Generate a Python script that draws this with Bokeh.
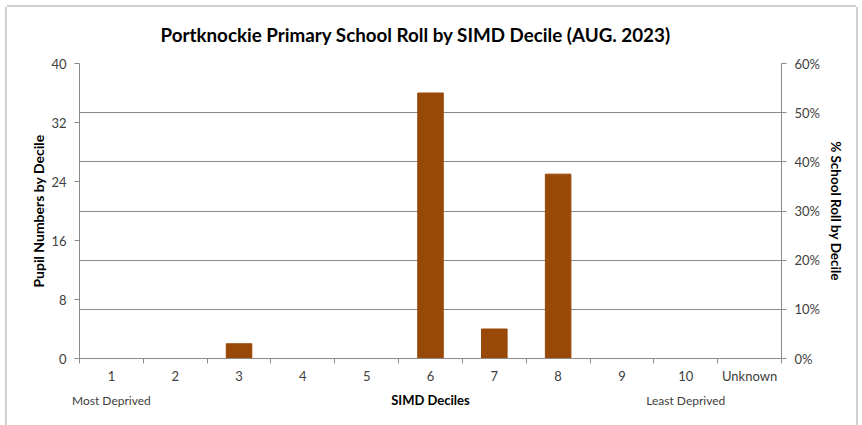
from bokeh.plotting import figure
from bokeh.models import (Range1d, LinearAxis, FixedTicker, NumeralTickFormatter,
                          Grid, InlineStyleSheet)
from bokeh.embed import file_html
from bokeh.resources import INLINE

# ---- data ----
categories = ["1", "2", "3", "4", "5", "6", "7", "8", "9", "10", "Unknown"]
pupils = [0, 0, 2, 0, 0, 36, 4, 25, 0, 0, 0]
left_ticks = [0, 8, 16, 24, 32, 40]
pct_ticks = [0.0, 0.1, 0.2, 0.3, 0.4, 0.5, 0.6]
end_notes = {"1": "Most Deprived", "10": "Least Deprived"}
title_text = "Portknockie Primary School Roll by SIMD Decile (AUG. 2023)"

FONT = "Lato"
AXIS_GREY = "#8a8a8a"
TICK_TXT = "#404040"
BAR = "#984807"

n = len(categories)
centers = [i + 0.5 for i in range(n)]
bounds = [float(i) for i in range(n + 1)]

# layout (pixels)
BL, BR, BT, BB = 72, 75, 56, 67
W, H = 849, 418

p = figure(width=W, height=H, output_backend="svg", toolbar_location=None,
           x_range=Range1d(0, n), y_range=Range1d(0, 40),
           min_border_left=BL, min_border_right=BR, min_border_top=BT,
           min_border_bottom=BB, outline_line_color=None,
           background_fill_color="white", border_fill_color="white")
p.margin = (7, 0, 0, 7)

p.stylesheets = [InlineStyleSheet(css=":host { box-shadow: -2px 0 0 0 #cfcfcf, 2px 0 0 0 #cfcfcf, 0 -2px 0 0 #cfcfcf; }")]

p.title.text = title_text
p.title.align = "left"
p.title.offset = 81
p.title.vertical_align = "top"
p.title.text_font = FONT
p.title.text_font_size = "18.8px"
p.title.text_font_style = "bold"
p.title.text_color = "black"
p.title.standoff = 31

p.extra_y_ranges = {"pct": Range1d(0, 0.6)}

p.vbar(x=centers, top=pupils, width=0.4, fill_color=BAR, line_color=BAR)

# grid from right axis
p.xgrid.grid_line_color = None
p.ygrid.grid_line_color = None
pct_ticker = FixedTicker(ticks=pct_ticks)
p.add_layout(Grid(dimension=1, ticker=pct_ticker, y_range_name="pct",
                  grid_line_color=AXIS_GREY, grid_line_width=1))

def style_axis(ax):
    ax.axis_line_color = AXIS_GREY
    ax.major_tick_line_color = AXIS_GREY
    ax.minor_tick_line_color = AXIS_GREY
    ax.major_tick_in = 0
    ax.major_tick_out = 5
    ax.minor_tick_in = 0
    ax.minor_tick_out = 0
    ax.major_label_text_font = FONT
    ax.major_label_text_font_size = "13px"
    ax.major_label_text_color = TICK_TXT
    ax.axis_label_text_font = FONT
    ax.axis_label_text_font_size = "13.5px"
    ax.axis_label_text_font_style = "bold"
    ax.axis_label_text_color = "black"

# left axis
ya = p.yaxis[0]
style_axis(ya)
ya.ticker = FixedTicker(ticks=left_ticks)
ya.axis_label = "Pupil Numbers by Decile"
ya.axis_label_text_font_size = "14px"
ya.major_label_standoff = 8
ya.axis_label_standoff = 1

# right axis
ra = LinearAxis(y_range_name="pct", ticker=pct_ticker,
                formatter=NumeralTickFormatter(format="0%"),
                axis_label="% School Roll by Decile")
style_axis(ra)
ra.major_label_standoff = 8
ra.axis_label_standoff = 5
p.add_layout(ra, "right")

# x axis (categories, ticks at category boundaries)
xa = p.xaxis[0]
style_axis(xa)
xa.ticker = FixedTicker(ticks=centers, minor_ticks=bounds)
xa.major_label_overrides = {c: lab for c, lab in zip(centers, categories)}
xa.major_tick_out = 0
xa.minor_tick_out = 5
xa.major_label_standoff = 4

# second row under the x axis: end notes + axis title
note_pos = [centers[categories.index(k)] for k in end_notes]
na = LinearAxis(ticker=FixedTicker(ticks=note_pos),
                major_label_overrides={c: t for c, t in zip(note_pos, end_notes.values())})
style_axis(na)
na.axis_line_color = None
na.major_tick_line_color = None
na.minor_tick_line_color = None
na.major_tick_out = 0
na.major_label_text_font_size = "12px"
na.major_label_standoff = 6
na.axis_label = "SIMD Deciles"
na.axis_label_text_font_size = "13px"
na.axis_label_standoff = -19
p.add_layout(na, "below")

open("out.html", "w").write(file_html(p, INLINE))
